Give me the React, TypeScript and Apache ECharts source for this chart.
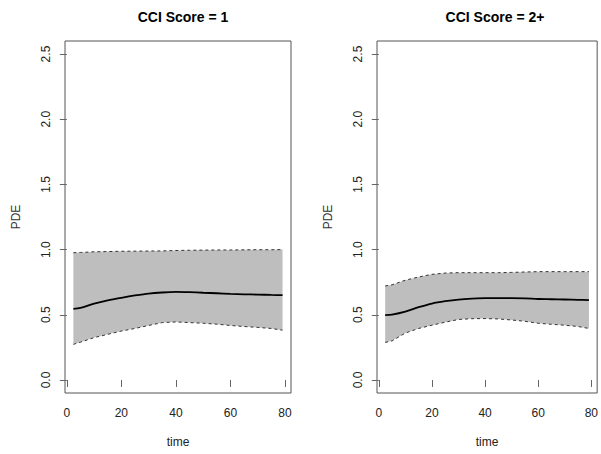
import React, { useEffect, useRef } from "react";
import * as echarts from "echarts";

const titles = ["CCI Score = 1", "CCI Score = 2+"];
const times = [2.4, 5, 10, 15, 20, 25, 30, 35, 40, 45, 50, 55, 60, 65, 70, 75, 79.1];

const mean1 = [0.545, 0.553, 0.585, 0.61, 0.63, 0.648, 0.663, 0.671, 0.675, 0.673, 0.669, 0.665, 0.66, 0.657, 0.655, 0.652, 0.65];
const upper1 = [0.976, 0.978, 0.983, 0.985, 0.987, 0.988, 0.989, 0.99, 0.993, 0.995, 0.996, 0.997, 0.997, 0.998, 0.999, 0.999, 1.0];
const lower1 = [0.273, 0.29, 0.325, 0.35, 0.375, 0.395, 0.418, 0.44, 0.445, 0.44, 0.435, 0.428, 0.418, 0.41, 0.403, 0.395, 0.382];

const mean2 = [0.497, 0.502, 0.525, 0.558, 0.586, 0.604, 0.617, 0.624, 0.627, 0.628, 0.628, 0.626, 0.621, 0.619, 0.617, 0.615, 0.612];
const upper2 = [0.721, 0.73, 0.765, 0.79, 0.81, 0.82, 0.823, 0.823, 0.823, 0.823, 0.825, 0.828, 0.831, 0.831, 0.831, 0.831, 0.831];
const lower2 = [0.288, 0.3, 0.36, 0.395, 0.42, 0.443, 0.464, 0.47, 0.471, 0.468, 0.46, 0.45, 0.435, 0.427, 0.42, 0.41, 0.395];

const xTicks = [0, 20, 40, 60, 80];
const yTicks = [0, 0.5, 1.0, 1.5, 2.0, 2.5];

const FONT = "Liberation Sans, Arial, sans-serif";

export default function App() {
  const ref = useRef<HTMLDivElement>(null);
  useEffect(() => {
    if (!ref.current) return;
    const chart = echarts.init(ref.current, undefined, { renderer: "svg" });
    const panels = [
      { mean: mean1, upper: upper1, lower: lower1 },
      { mean: mean2, upper: upper2, lower: lower2 },
    ];
    const lefts = [65, 377];
    const pair = (ys: number[]) => times.map((t, i) => [t, ys[i]]);

    const grids = lefts.map((l) => ({
      left: l,
      top: 41,
      width: 226,
      height: 352,
      show: true,
      borderColor: "#555",
      borderWidth: 1,
      backgroundColor: "transparent",
    }));

    const xAxes = lefts.map((_, i) => ({
      type: "value",
      gridIndex: i,
      min: -0.67,
      max: 82.2,
      name: "time",
      nameLocation: "middle",
      nameGap: 43,
      nameTextStyle: { fontFamily: FONT, fontSize: 12, color: "#222" },
      splitLine: { show: false },
      axisLine: { show: false, lineStyle: { color: "#333" } },
      axisTick: { show: true, length: 7, lineStyle: { color: "#666" }, customValues: xTicks },
      axisLabel: {
        fontFamily: FONT,
        fontSize: 12,
        color: "#222",
        margin: 14,
        customValues: xTicks,
        formatter: (v: number) => String(v),
      },
    }));

    const yAxes = lefts.map((_, i) => ({
      type: "value",
      gridIndex: i,
      min: -0.1,
      max: 2.6,
      name: "PDE",
      nameLocation: "middle",
      nameGap: 43,
      nameTextStyle: { fontFamily: FONT, fontSize: 12, color: "#333" },
      splitLine: { show: false },
      axisLine: { show: false, lineStyle: { color: "#333" } },
      axisTick: { show: true, length: 7, lineStyle: { color: "#666" }, customValues: yTicks },
      axisLabel: {
        fontFamily: FONT,
        fontSize: 12,
        color: "#222",
        margin: 13,
        rotate: 90,
        customValues: yTicks,
        formatter: (v: number) => v.toFixed(1),
      },
    }));

    const series: any[] = [];
    panels.forEach((p, i) => {
      series.push({
        type: "custom",
        coordinateSystem: "cartesian2d",
        xAxisIndex: i,
        yAxisIndex: i,
        silent: true,
        z: 1,
        data: times.map((t, k) => [t, p.lower[k], p.upper[k]]),
        encode: { x: 0, y: [1, 2] },
        renderItem: (params: any, api: any) => {
          if (params.dataIndex !== 0) return null;
          const top = times.map((t, k) => api.coord([t, p.upper[k]]));
          const bottom = times.map((t, k) => api.coord([t, p.lower[k]])).reverse();
          return {
            type: "polygon",
            shape: { points: top.concat(bottom) },
            style: { fill: "#bebebe", stroke: "none" },
          };
        },
      });
      [p.upper, p.lower].forEach((arr) => {
        series.push({
          type: "line",
          xAxisIndex: i,
          yAxisIndex: i,
          z: 2,
          data: pair(arr),
          symbol: "none",
          lineStyle: { color: "#333", width: 1, type: [3, 3] },
          silent: true,
        });
      });
      series.push({
        type: "line",
        xAxisIndex: i,
        yAxisIndex: i,
        z: 3,
        data: pair(p.mean),
        symbol: "none",
        smooth: 0.3,
        lineStyle: { color: "#000", width: 1.8 },
        silent: true,
      });
    });

    chart.setOption({
      animation: false,
      backgroundColor: "#fff",
      title: titles.map((t, i) => ({
        text: t,
        left: lefts[i] + 113,
        top: 5,
        textAlign: "center",
        textStyle: { fontFamily: FONT, fontSize: 14, fontWeight: "bold", color: "#000" },
      })),
      grid: grids,
      xAxis: xAxes,
      yAxis: yAxes,
      series,
    });
    return () => chart.dispose();
  }, []);
  return (
    <div
      ref={ref}
      style={{ position: "fixed", left: 0, top: 0, width: 601, height: 454, background: "#fff" }}
    />
  );
}
